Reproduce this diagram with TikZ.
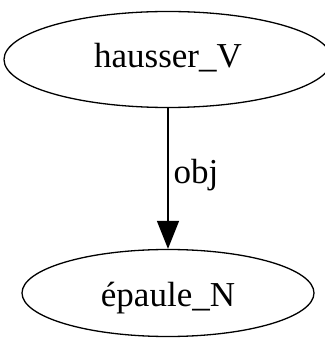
\documentclass[tikz,border=0pt]{standalone}
\usepackage{fontspec}
\setmainfont{Liberation Serif}
\usetikzlibrary{shapes.geometric,arrows.meta}
\tikzset{
  ell/.style={draw, ellipse, line width=1.3pt, inner sep=0pt, font=\fontsize{35}{40}\selectfont, text depth=0pt},
  edge/.style={line width=1.3pt, -{Triangle[length=28pt,width=22pt]}},
  lbl/.style={font=\fontsize{35}{40}\selectfont, inner sep=0pt}
}
\begin{document}
\begin{tikzpicture}[x=1pt,y=1pt]
\useasboundingbox (0,0) rectangle (324,340);
\node[ell, minimum width=328pt, minimum height=96pt, text height=17pt] (top) at (168,280.5) {hausser\_V};
\node[ell, minimum width=292pt, minimum height=87pt, text height=26pt] (bot) at (168,47) {épaule\_N};
\draw[edge] (top) -- (bot) node[lbl, pos=0.45, anchor=base west, xshift=5pt, yshift=-12pt] (l) {obj};
\end{tikzpicture}
\end{document}
